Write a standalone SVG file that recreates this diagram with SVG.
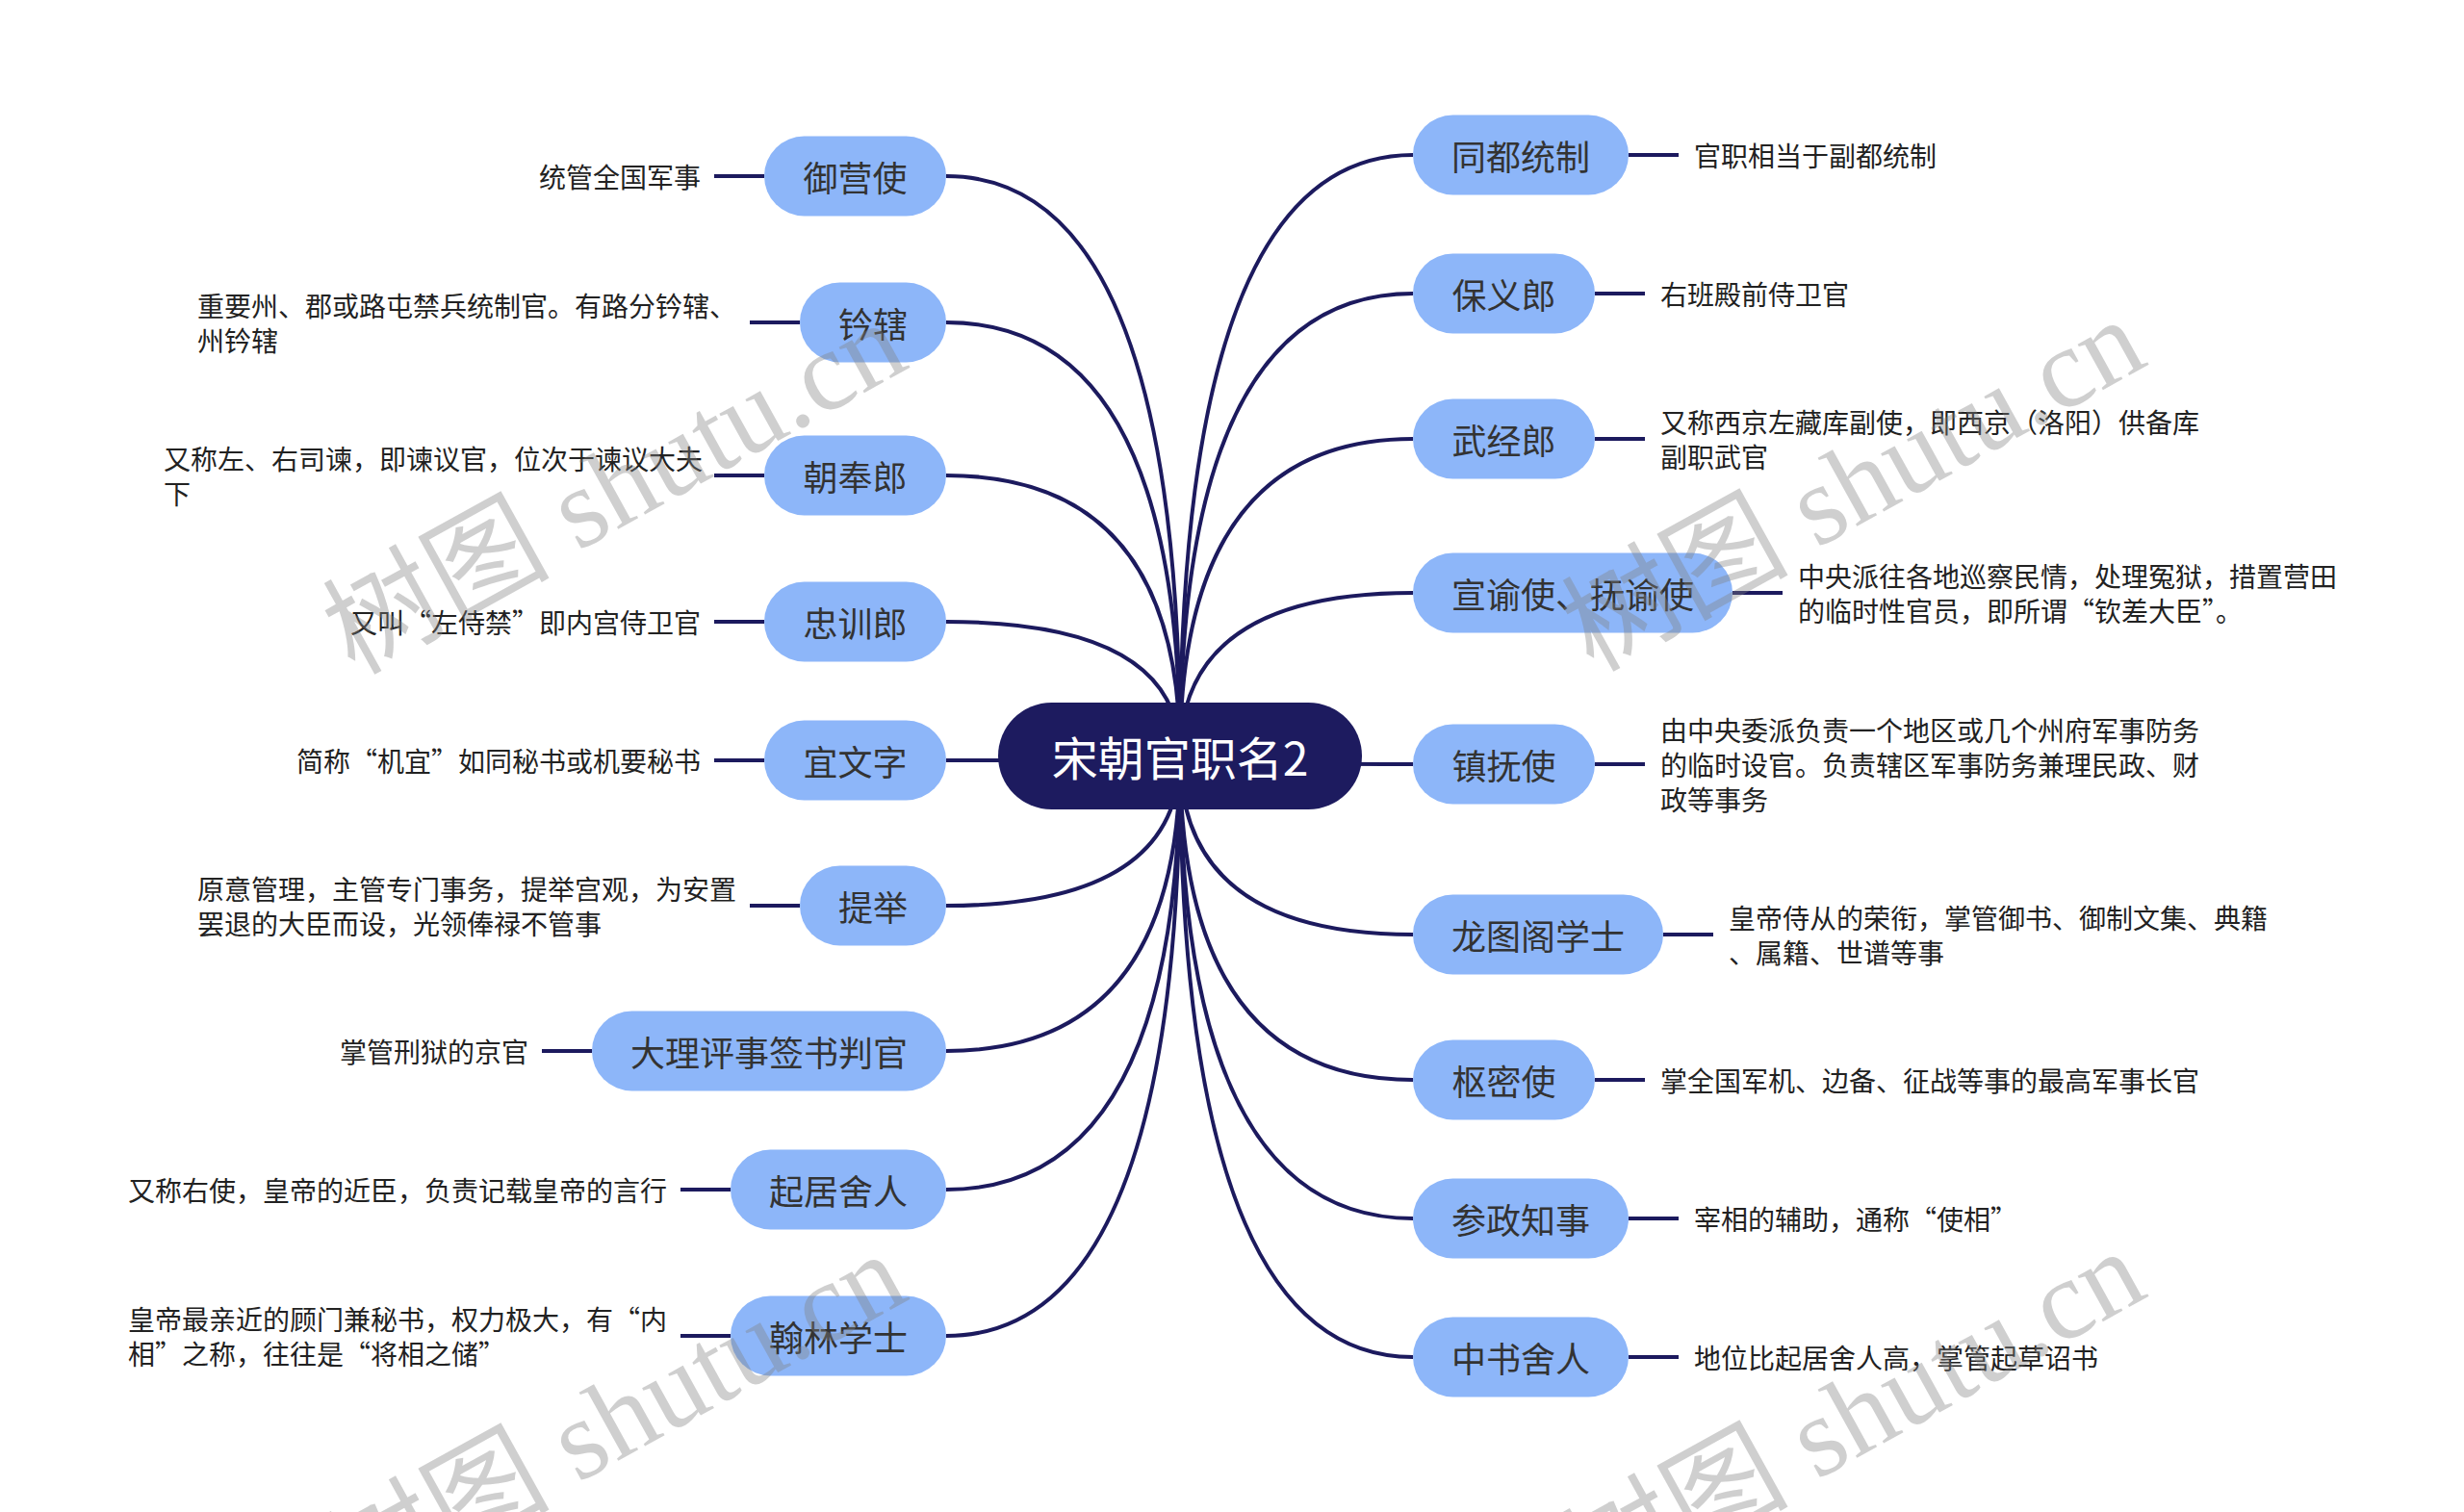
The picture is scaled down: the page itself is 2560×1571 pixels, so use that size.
<svg xmlns="http://www.w3.org/2000/svg" width="2560" height="1571" viewBox="0 0 2560 1571">
<style>
.node rect{fill:#8db6f9}
.node text{font-family:"Noto Sans CJK SC","Noto Sans",sans-serif;font-size:36px;fill:#333;text-anchor:middle;dominant-baseline:central}
.lbl{font-family:"Noto Sans CJK SC","Noto Sans",sans-serif;font-size:28px;fill:#222;dominant-baseline:central}
.end{text-anchor:end}
#connectors path,#connectors line{stroke:#1c1a5e;stroke-width:4;fill:none}
.wm{font-family:"Liberation Serif","Noto Sans CJK SC",serif;font-size:118px;fill:#808080;fill-opacity:0.38}
</style>
<rect width="2560" height="1571" fill="#fff"/>
<g id="connectors">
<path d="M1226 785 Q1226 183 983 183"/>
<path d="M1226 785 Q1226 335 983 335"/>
<path d="M1226 785 Q1226 494 983 494"/>
<path d="M1226 785 Q1226 646 983 646"/>
<path d="M1226 785 Q1226 790 983 790"/>
<path d="M1226 785 Q1226 941 983 941"/>
<path d="M1226 785 Q1226 1092 983 1092"/>
<path d="M1226 785 Q1226 1236 983 1236"/>
<path d="M1226 785 Q1226 1388 983 1388"/>
<path d="M1226 785 Q1226 161 1468 161"/>
<path d="M1226 785 Q1226 305 1468 305"/>
<path d="M1226 785 Q1226 456 1468 456"/>
<path d="M1226 785 Q1226 616 1468 616"/>
<path d="M1226 785 Q1226 794 1468 794"/>
<path d="M1226 785 Q1226 971 1468 971"/>
<path d="M1226 785 Q1226 1122 1468 1122"/>
<path d="M1226 785 Q1226 1266 1468 1266"/>
<path d="M1226 785 Q1226 1410 1468 1410"/>
<line x1="742" y1="183" x2="794" y2="183"/>
<line x1="779" y1="335" x2="831" y2="335"/>
<line x1="742" y1="494" x2="794" y2="494"/>
<line x1="742" y1="646" x2="794" y2="646"/>
<line x1="742" y1="790" x2="794" y2="790"/>
<line x1="779" y1="941" x2="831" y2="941"/>
<line x1="563" y1="1092" x2="615" y2="1092"/>
<line x1="707" y1="1236" x2="759" y2="1236"/>
<line x1="707" y1="1388" x2="759" y2="1388"/>
<line x1="1692" y1="161" x2="1744" y2="161"/>
<line x1="1657" y1="305" x2="1709" y2="305"/>
<line x1="1657" y1="456" x2="1709" y2="456"/>
<line x1="1800" y1="616" x2="1852" y2="616"/>
<line x1="1657" y1="794" x2="1709" y2="794"/>
<line x1="1728" y1="971" x2="1780" y2="971"/>
<line x1="1657" y1="1122" x2="1709" y2="1122"/>
<line x1="1692" y1="1266" x2="1744" y2="1266"/>
<line x1="1692" y1="1410" x2="1744" y2="1410"/>
</g>
<g id="root">
<rect x="1037" y="730" width="378" height="111" rx="55.5" fill="#1d1b5f"/>
<text x="1226" y="785" font-family="Noto Sans CJK SC, Noto Sans, sans-serif" font-size="48" fill="#fff" text-anchor="middle" dominant-baseline="central">宋朝官职名2</text>
</g>
<g id="n-yuyingshi" class="node"><rect x="794" y="141.5" width="189" height="83" rx="41.5"/><text x="888.5" y="183">御营使</text></g>
<text class="lbl end" x="728" y="183">统管全国军事</text>
<g id="n-qianxia" class="node"><rect x="831" y="293.5" width="152" height="83" rx="41.5"/><text x="907" y="335">钤辖</text></g>
<text class="lbl" x="205" y="317">重要州、郡或路屯禁兵统制官。有路分钤辖、</text>
<text class="lbl" x="205" y="353">州钤辖</text>
<g id="n-chaofenglang" class="node"><rect x="794" y="452.5" width="189" height="83" rx="41.5"/><text x="888.5" y="494">朝奉郎</text></g>
<text class="lbl" x="170" y="476">又称左、右司谏，即谏议官，位次于谏议大夫</text>
<text class="lbl" x="170" y="512">下</text>
<g id="n-zhongxunlang" class="node"><rect x="794" y="604.5" width="189" height="83" rx="41.5"/><text x="888.5" y="646">忠训郎</text></g>
<text class="lbl end" x="728" y="646">又叫“左侍禁”即内宫侍卫官</text>
<g id="n-yiwenzi" class="node"><rect x="794" y="748.5" width="189" height="83" rx="41.5"/><text x="888.5" y="790">宜文字</text></g>
<text class="lbl end" x="728" y="790">简称“机宜”如同秘书或机要秘书</text>
<g id="n-tiju" class="node"><rect x="831" y="899.5" width="152" height="83" rx="41.5"/><text x="907" y="941">提举</text></g>
<text class="lbl" x="205" y="923">原意管理，主管专门事务，提举宫观，为安置</text>
<text class="lbl" x="205" y="959">罢退的大臣而设，光领俸禄不管事</text>
<g id="n-dali" class="node"><rect x="615" y="1050.5" width="368" height="83" rx="41.5"/><text x="799" y="1092">大理评事签书判官</text></g>
<text class="lbl end" x="549" y="1092">掌管刑狱的京官</text>
<g id="n-qijusheren" class="node"><rect x="759" y="1194.5" width="224" height="83" rx="41.5"/><text x="871" y="1236">起居舍人</text></g>
<text class="lbl end" x="693" y="1236">又称右使，皇帝的近臣，负责记载皇帝的言行</text>
<g id="n-hanlin" class="node"><rect x="759" y="1346.5" width="224" height="83" rx="41.5"/><text x="871" y="1388">翰林学士</text></g>
<text class="lbl" x="133" y="1370">皇帝最亲近的顾门兼秘书，权力极大，有“内</text>
<text class="lbl" x="133" y="1406">相”之称，往往是“将相之储”</text>
<g id="n-tongdutongzhi" class="node"><rect x="1468" y="119.5" width="224" height="83" rx="41.5"/><text x="1580" y="161">同都统制</text></g>
<text class="lbl" x="1760" y="161">官职相当于副都统制</text>
<g id="n-baoyilang" class="node"><rect x="1468" y="263.5" width="189" height="83" rx="41.5"/><text x="1562.5" y="305">保义郎</text></g>
<text class="lbl" x="1725" y="305">右班殿前侍卫官</text>
<g id="n-wujinglang" class="node"><rect x="1468" y="414.5" width="189" height="83" rx="41.5"/><text x="1562.5" y="456">武经郎</text></g>
<text class="lbl" x="1725" y="438">又称西京左藏库副使，即西京（洛阳）供备库</text>
<text class="lbl" x="1725" y="474">副职武官</text>
<g id="n-xuanyushi" class="node"><rect x="1468" y="574.5" width="332" height="83" rx="41.5"/><text x="1634" y="616">宣谕使、抚谕使</text></g>
<text class="lbl" x="1868" y="598">中央派往各地巡察民情，处理冤狱，措置营田</text>
<text class="lbl" x="1868" y="634">的临时性官员，即所谓“钦差大臣”。</text>
<g id="n-zhenfushi" class="node"><rect x="1468" y="752.5" width="189" height="83" rx="41.5"/><text x="1562.5" y="794">镇抚使</text></g>
<text class="lbl" x="1725" y="758">由中央委派负责一个地区或几个州府军事防务</text>
<text class="lbl" x="1725" y="794">的临时设官。负责辖区军事防务兼理民政、财</text>
<text class="lbl" x="1725" y="830">政等事务</text>
<g id="n-longtuge" class="node"><rect x="1468" y="929.5" width="260" height="83" rx="41.5"/><text x="1598" y="971">龙图阁学士</text></g>
<text class="lbl" x="1796" y="953">皇帝侍从的荣衔，掌管御书、御制文集、典籍</text>
<text class="lbl" x="1796" y="989">、属籍、世谱等事</text>
<g id="n-shumishi" class="node"><rect x="1468" y="1080.5" width="189" height="83" rx="41.5"/><text x="1562.5" y="1122">枢密使</text></g>
<text class="lbl" x="1725" y="1122">掌全国军机、边备、征战等事的最高军事长官</text>
<g id="n-canzheng" class="node"><rect x="1468" y="1224.5" width="224" height="83" rx="41.5"/><text x="1580" y="1266">参政知事</text></g>
<text class="lbl" x="1760" y="1266">宰相的辅助，通称“使相”</text>
<g id="n-zhongshu" class="node"><rect x="1468" y="1368.5" width="224" height="83" rx="41.5"/><text x="1580" y="1410">中书舍人</text></g>
<text class="lbl" x="1760" y="1410">地位比起居舍人高，掌管起草诏书</text>
<g id="watermarks">
<text class="wm" x="368" y="702" transform="rotate(-29 368 702)">树图 shutu.cn</text>
<text class="wm" x="1655" y="699" transform="rotate(-29 1655 699)">树图 shutu.cn</text>
<text class="wm" x="368" y="1670" transform="rotate(-29 368 1670)">树图 shutu.cn</text>
<text class="wm" x="1655" y="1667" transform="rotate(-29 1655 1667)">树图 shutu.cn</text>
</g>
</svg>
